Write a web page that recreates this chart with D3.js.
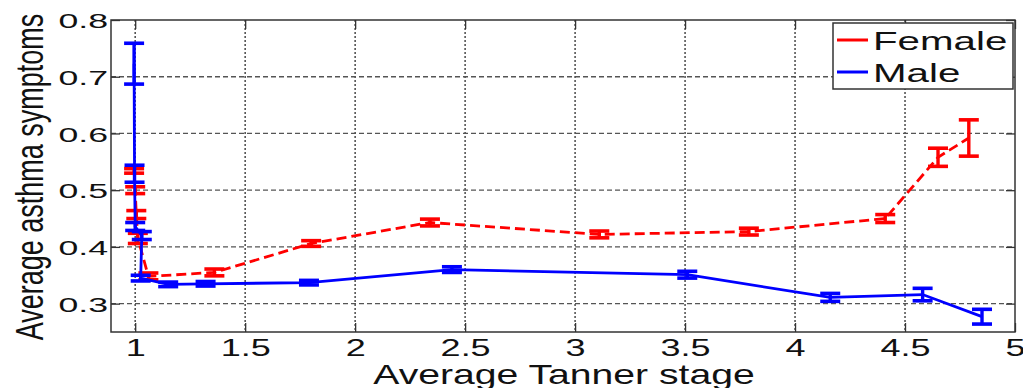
<!DOCTYPE html>
<html>
<head>
<meta charset="utf-8">
<script src="https://cdn.jsdelivr.net/npm/d3@7"></script>
<style>
  body { margin:0; background:#fff; }
  text { font-family: "Liberation Sans", Arial, Helvetica, sans-serif; fill:#111; }
</style>
</head>
<body>
<div id="chart"></div>
<script>
// data
var femaleX   = [0.995, 1.0, 1.005, 1.012, 1.06, 1.36, 1.80, 2.34, 3.11, 3.79, 4.41, 4.65, 4.79];
var femaleY   = [0.534, 0.500, 0.457, 0.415, 0.348, 0.355, 0.406, 0.443, 0.422, 0.427, 0.450, 0.558, 0.592];
var femaleErr = [0.004, 0.006, 0.007, 0.009, 0.006, 0.006, 0.005, 0.006, 0.006, 0.006, 0.007, 0.016, 0.032];

var maleX   = [0.995, 0.997, 1.0, 1.03, 1.025, 1.15, 1.32, 1.79, 2.44, 3.51, 4.16, 4.58, 4.85];
var maleY   = [0.723, 0.529, 0.436, 0.420, 0.345, 0.334, 0.335, 0.337, 0.360, 0.351, 0.311, 0.316, 0.277];
var maleErr = [0.036, 0.015, 0.007, 0.007, 0.005, 0.004, 0.004, 0.004, 0.005, 0.006, 0.007, 0.011, 0.013];

var xTicks = [1, 1.5, 2, 2.5, 3, 3.5, 4, 4.5, 5];
var yTicks = [0.3, 0.4, 0.5, 0.6, 0.7, 0.8];
var seriesNames = ["Female", "Male"];

(function() {
  var W = 1023, H = 388;
  var left = 111, right = 1015, top = 20, bottom = 332;
  var sx = 1.5; // the figure is stretched sideways

  var svg = d3.select("#chart").append("svg")
      .attr("width", W).attr("height", H);

  var x = d3.scaleLinear().domain([0.89, 5]).range([left, right]);
  var y = d3.scaleLinear().domain([0.25, 0.8]).range([bottom, top]);

  // grid
  svg.append("g").selectAll("line").data(yTicks.slice(0, -1)).enter().append("line")
      .attr("x1", left).attr("x2", right)
      .attr("y1", d => y(d)).attr("y2", d => y(d))
      .attr("stroke", "#555").attr("stroke-width", 1.3).attr("stroke-dasharray", "5,3");
  svg.append("g").selectAll("line").data(xTicks.slice(0, -1)).enter().append("line")
      .attr("x1", d => x(d)).attr("x2", d => x(d))
      .attr("y1", top).attr("y2", bottom)
      .attr("stroke", "#555").attr("stroke-width", 1.6).attr("stroke-dasharray", "2,2");

  // axes, ticks pointing inward
  var gx = svg.append("g").attr("transform", "translate(0," + bottom + ")")
      .call(d3.axisBottom(x).tickValues(xTicks).tickSize(-9).tickFormat(d3.format("")));
  var gxTop = svg.append("g").attr("transform", "translate(0," + top + ")")
      .call(d3.axisTop(x).tickValues(xTicks).tickSize(-9).tickFormat(""));
  var gy = svg.append("g").attr("transform", "translate(" + left + ",0)")
      .call(d3.axisLeft(y).tickValues(yTicks).tickSize(-9).tickFormat(d3.format(".1f")));
  var gyR = svg.append("g").attr("transform", "translate(" + right + ",0)")
      .call(d3.axisRight(y).tickValues(yTicks).tickSize(-9).tickFormat(""));

  [gx, gxTop, gy, gyR].forEach(function(g) {
    g.select(".domain").remove();
    g.selectAll(".tick line").attr("stroke", "#333").attr("stroke-width", 1.3);
  });

  gx.selectAll(".tick text")
      .attr("y", 24).attr("dy", 0)
      .attr("font-size", 24)
      .attr("transform", "scale(" + sx + ",1)");
  gy.selectAll(".tick text")
      .attr("x", -3 / 1.7).attr("dy", "0.36em")
      .attr("font-size", 21)
      .attr("transform", "scale(1.7,1)");

  // frame
  svg.append("rect")
      .attr("x", left).attr("y", top)
      .attr("width", right - left).attr("height", bottom - top)
      .attr("fill", "none").attr("stroke", "#333").attr("stroke-width", 1.5);

  // axis labels
  svg.append("text")
      .attr("transform", "translate(564,384) scale(1.45,1)")
      .attr("text-anchor", "middle").attr("font-size", 27)
      .text("Average Tanner stage");
  svg.append("text")
      .attr("transform", "translate(43,177) scale(1.45,1) rotate(-90)")
      .attr("text-anchor", "middle").attr("font-size", 27)
      .text("Average asthma symptoms");

  // series
  var series = [
    { name: seriesNames[0], color: "#ff0000", dash: "10,5",
      pts: femaleX.map((d, i) => ({x: d, y: femaleY[i], e: femaleErr[i]})) },
    { name: seriesNames[1], color: "#0000ff", dash: null,
      pts: maleX.map((d, i) => ({x: d, y: maleY[i], e: maleErr[i]})) }
  ];

  var line = d3.line().x(d => x(d.x)).y(d => y(d.y));
  var capW = 10;

  series.forEach(function(s) {
    var g = svg.append("g");
    g.append("path")
        .datum(s.pts)
        .attr("d", line)
        .attr("fill", "none")
        .attr("stroke", s.color).attr("stroke-width", 2.8)
        .attr("stroke-dasharray", s.dash);

    var bars = g.selectAll(".eb").data(s.pts).enter().append("g").attr("class", "eb");
    bars.append("line")
        .attr("x1", d => x(d.x)).attr("x2", d => x(d.x))
        .attr("y1", d => y(d.y - d.e)).attr("y2", d => y(d.y + d.e))
        .attr("stroke", s.color).attr("stroke-width", 3.4);
    bars.append("line")
        .attr("x1", d => x(d.x) - capW).attr("x2", d => x(d.x) + capW)
        .attr("y1", d => y(d.y + d.e)).attr("y2", d => y(d.y + d.e))
        .attr("stroke", s.color).attr("stroke-width", 3.6);
    bars.append("line")
        .attr("x1", d => x(d.x) - capW).attr("x2", d => x(d.x) + capW)
        .attr("y1", d => y(d.y - d.e)).attr("y2", d => y(d.y - d.e))
        .attr("stroke", s.color).attr("stroke-width", 3.6);
  });

  // legend
  var lg = svg.append("g");
  lg.append("rect")
      .attr("x", 833).attr("y", 23).attr("width", 180).attr("height", 66)
      .attr("fill", "#fff").attr("stroke", "#333").attr("stroke-width", 1.5);
  series.forEach(function(s, i) {
    var ly = 40 + i * 32;
    lg.append("line")
        .attr("x1", 837).attr("x2", 868).attr("y1", ly).attr("y2", ly)
        .attr("stroke", s.color).attr("stroke-width", 3);
    lg.append("text")
        .attr("transform", "translate(873," + (ly + 10) + ") scale(1.55,1)")
        .attr("font-size", 26)
        .text(s.name);
  });
})();
</script>
</body>
</html>
